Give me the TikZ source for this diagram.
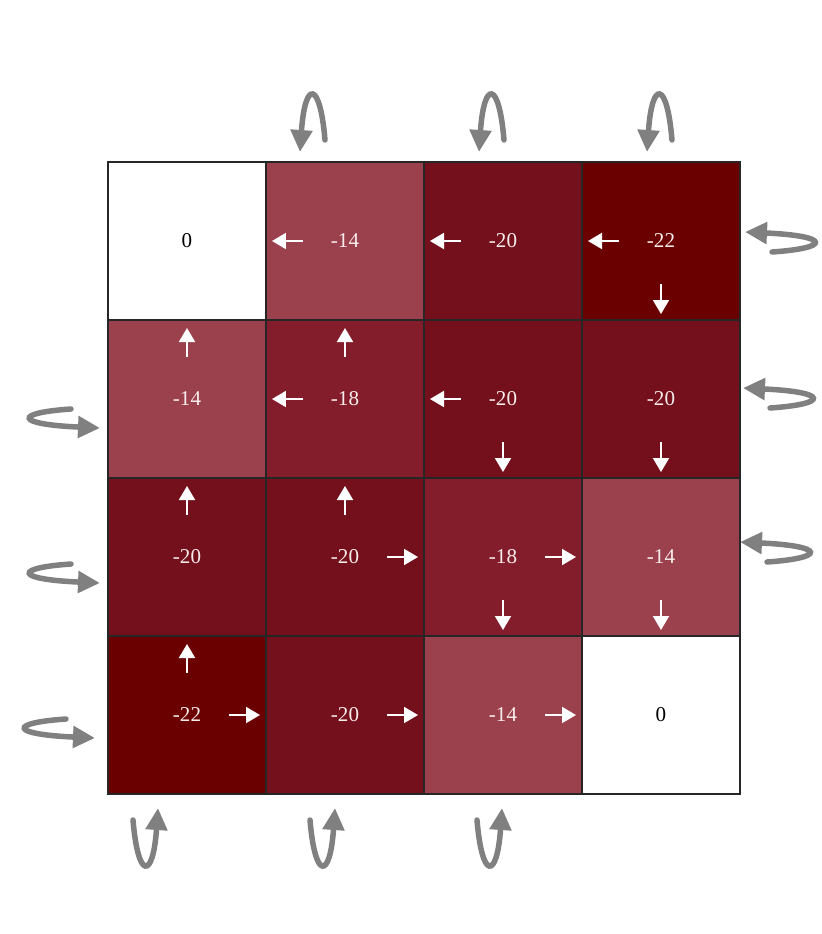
\documentclass[tikz,border=0pt]{standalone}
\usepackage{fontspec}
\setmainfont{Liberation Serif}
\usetikzlibrary{arrows.meta,calc}

\definecolor{vfourteen}{HTML}{9B404D}
\definecolor{veighteen}{HTML}{831C2B}
\definecolor{vtwenty}{HTML}{74101C}
\definecolor{vtwentytwo}{HTML}{6B0000}
\definecolor{loopgray}{HTML}{808080}
\definecolor{textwhite}{HTML}{F7ECEC}

\tikzset{
  cell/.style={draw=black!85, line width=0.8pt, rectangle, minimum size=3.16cm,
    inner sep=0pt, outer sep=0pt, font=\fontsize{12}{14}\selectfont},
  zero/.style={cell, fill=white, text=black},
  dark/.style={cell, fill=#1, text=textwhite},
  policy/.style={draw=white, line width=0.04cm,
    -{Triangle[length=0.28cm, width=0.32cm]}},
  selfloop/.style={draw=loopgray, line width=0.11cm, line cap=round,
    -{Triangle[length=0.44cm, width=0.42cm]}}
}

% self transition: name, tip x, tip y, rotation, back, side, reach
\newcommand{\selfloop}[7]{%
  \begin{scope}[shift={(#2,#3)}, rotate=#4]
    \coordinate (#1-from) at (#6,-#5);
    \coordinate (#1-to) at (0,0);
    \draw[selfloop] (#1-from) .. controls (0.8*#6,-#7) and (0.2*#6,-#7) .. (#1-to);
  \end{scope}}

\begin{document}
\begin{tikzpicture}[x=0.02cm, y=-0.02cm]
\useasboundingbox (0,0) rectangle (822,934);

% grid of values
\node[zero] (c00) at (187,241) {0};
\node[dark=vfourteen] (c01) at (345,241) {-14};
\node[dark=vtwenty] (c02) at (503,241) {-20};
\node[dark=vtwentytwo] (c03) at (661,241) {-22};

\node[dark=vfourteen] (c10) at (187,399) {-14};
\node[dark=veighteen] (c11) at (345,399) {-18};
\node[dark=vtwenty] (c12) at (503,399) {-20};
\node[dark=vtwenty] (c13) at (661,399) {-20};

\node[dark=vtwenty] (c20) at (187,557) {-20};
\node[dark=vtwenty] (c21) at (345,557) {-20};
\node[dark=veighteen] (c22) at (503,557) {-18};
\node[dark=vfourteen] (c23) at (661,557) {-14};

\node[dark=vtwentytwo] (c30) at (187,715) {-22};
\node[dark=vtwenty] (c31) at (345,715) {-20};
\node[dark=vfourteen] (c32) at (503,715) {-14};
\node[zero] (c33) at (661,715) {0};

% policy arrows
\draw[policy] ($(c01)+(-42,0)$) -- ($(c01)+(-73,0)$);
\draw[policy] ($(c02)+(-42,0)$) -- ($(c02)+(-73,0)$);
\draw[policy] ($(c03)+(-42,0)$) -- ($(c03)+(-73,0)$);
\draw[policy] ($(c03)+(0,43)$) -- ($(c03)+(0,73)$);

\draw[policy] ($(c10)+(0,-42)$) -- ($(c10)+(0,-71)$);
\draw[policy] ($(c11)+(0,-42)$) -- ($(c11)+(0,-71)$);
\draw[policy] ($(c11)+(-42,0)$) -- ($(c11)+(-73,0)$);
\draw[policy] ($(c12)+(-42,0)$) -- ($(c12)+(-73,0)$);
\draw[policy] ($(c12)+(0,43)$) -- ($(c12)+(0,73)$);
\draw[policy] ($(c13)+(0,43)$) -- ($(c13)+(0,73)$);

\draw[policy] ($(c20)+(0,-42)$) -- ($(c20)+(0,-71)$);
\draw[policy] ($(c21)+(0,-42)$) -- ($(c21)+(0,-71)$);
\draw[policy] ($(c21)+(42,0)$) -- ($(c21)+(73,0)$);
\draw[policy] ($(c22)+(42,0)$) -- ($(c22)+(73,0)$);
\draw[policy] ($(c22)+(0,43)$) -- ($(c22)+(0,73)$);
\draw[policy] ($(c23)+(0,43)$) -- ($(c23)+(0,73)$);

\draw[policy] ($(c30)+(0,-42)$) -- ($(c30)+(0,-71)$);
\draw[policy] ($(c30)+(42,0)$) -- ($(c30)+(73,0)$);
\draw[policy] ($(c31)+(42,0)$) -- ($(c31)+(73,0)$);
\draw[policy] ($(c32)+(42,0)$) -- ($(c32)+(73,0)$);

% self transitions at the walls
\selfloop{t1}{300}{152}{0}{12}{25}{72}
\selfloop{t2}{479}{152}{0}{12}{25}{72}
\selfloop{t3}{647}{152}{0}{12}{25}{72}

\selfloop{b0}{158}{808}{180}{12}{25}{72}
\selfloop{b1}{335}{808}{180}{12}{25}{72}
\selfloop{b2}{502}{808}{180}{12}{25}{72}

\selfloop{l1}{100}{428}{90}{29}{19}{86}
\selfloop{l2}{100}{583}{90}{29}{19}{86}
\selfloop{l3}{95}{738}{90}{29}{19}{86}

\selfloop{r0}{745}{232}{-90}{27}{20}{86}
\selfloop{r1}{743}{388}{-90}{27}{20}{86}
\selfloop{r2}{740}{542}{-90}{27}{20}{86}
\end{tikzpicture}
\end{document}
